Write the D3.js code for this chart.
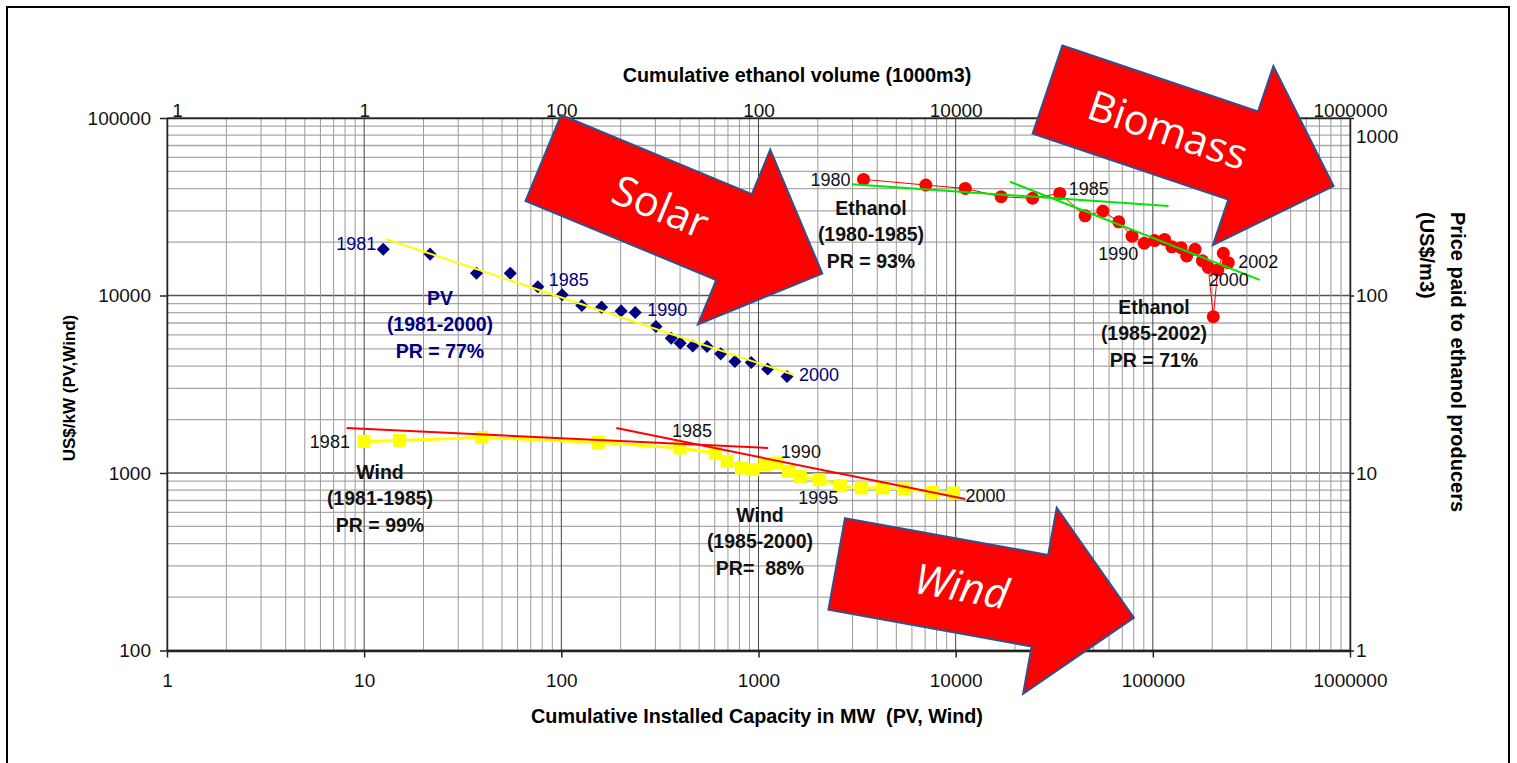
<!DOCTYPE html>
<html>
<head>
<meta charset="utf-8">
<script src="https://cdn.jsdelivr.net/npm/d3@7"></script>
<style>
body { margin: 0; background: #fff; }
svg text { font-family: "Liberation Sans", Arial, sans-serif; }
</style>
</head>
<body>
<script>
var w = 1517;
var h = 763;
var plot = {left: 167, right: 1350, top: 118, bottom: 650.5};

// PV (1981-2000): cumulative MW vs US$/kW
var pvYears = [1981, 1982, 1983, 1984, 1985, 1986, 1987, 1988, 1989, 1990,
               1991, 1992, 1993, 1994, 1995, 1996, 1997, 1998, 1999, 2000];
var pvCapacity = [12.5, 21.6, 37.1, 55.1, 76, 101, 127, 160, 201, 237,
                  302, 361, 401, 464, 548, 643, 759, 919, 1113, 1395];
var pvCost = [18200, 17100, 13350, 13350, 11200, 10100, 8780, 8600, 8190, 8010,
              6680, 5750, 5390, 5200, 5160, 4690, 4250, 4190, 3850, 3500];

// Wind (1981-2000)
var windYears = [1981, 1982, 1983, 1984, 1985, 1986, 1987, 1988, 1989, 1990,
                 1991, 1992, 1993, 1994, 1995, 1996, 1997, 1998, 1999, 2000];
var windCapacity = [9.97, 15.1, 39.5, 154, 400, 604, 693, 818, 939, 1077,
                    1237, 1419, 1629, 2028, 2600, 3331, 4268, 5470, 7608, 9747];
var windCost = [1506, 1526, 1586, 1487, 1382, 1296, 1163, 1067, 1044, 1114,
                1138, 1021, 957, 917, 848, 823, 823, 813, 778, 772];

// Ethanol (1980-2002): cumulative volume (1000 m3) vs price (US$/m3)
var ethanolYears = [1980, 1981, 1982, 1983, 1984, 1985, 1986, 1987, 1988, 1989, 1990, 1991,
                    1992, 1993, 1994, 1995, 1996, 1997, 1998, 1999, 2000, 2001, 2002];
var ethanolVolume = [3410, 7060, 11190, 17010, 24560, 33730, 45290, 55800, 67150, 78450, 90440, 102000,
                     114700, 124900, 139000, 148500, 163700, 178200, 191100, 202600, 213600, 227700, 241400];
var ethanolPrice = [451, 419, 401, 360, 353, 376, 281, 299, 260, 216, 197, 204,
                    207, 188, 186, 167, 182, 157, 144, 76, 139, 173, 153];

// experience curve fits (end points)
var pvFitX = [12.9, 1504], pvFitY = [20820, 3575];
var wind1FitX = [8.14, 1120], wind1FitY = [1791, 1382];
var wind2FitX = [190, 11190], wind2FitY = [1791, 714];
var eth1FitX = [2978, 120100], eth1FitY = [423, 319];
var eth2FitX = [18870, 348200], eth2FitY = [437.5, 122.4];

// ticks
var bottomTicks = [1, 10, 100, 1000, 10000, 100000, 1000000];
var topTicks = [1, 10, 100, 1000, 10000, 100000, 1000000];
var topTickLabels = ["1", "1", "100", "100", "10000", "", "1000000"];
var leftTicks = [100, 1000, 10000, 100000];
var rightTicks = [1, 10, 100, 1000];

var svg = d3.select("body").append("svg")
    .attr("width", w)
    .attr("height", h);

svg.append("rect")
    .attr("x", 7).attr("y", 7)
    .attr("width", 1502).attr("height", 800)
    .attr("fill", "#fff")
    .attr("stroke", "#000")
    .attr("stroke-width", 2);

var x = d3.scaleLog().domain([1, 1e6]).range([plot.left, plot.right]);
var y = d3.scaleLog().domain([100, 1e5]).range([plot.bottom, plot.top]);
var y2 = d3.scaleLog().domain([1, 1000]).range([plot.bottom, plot.top]);

function isMajor(v) {
    var l = Math.log10(v);
    return Math.abs(l - Math.round(l)) < 1e-9;
}

//Gridlines
var grid = svg.append("g");
grid.selectAll("line.hgrid")
    .data(y.ticks())
    .enter().append("line")
    .attr("x1", plot.left).attr("x2", plot.right)
    .attr("y1", function(d) { return y(d); })
    .attr("y2", function(d) { return y(d); })
    .attr("stroke", function(d) { return isMajor(d) ? "#555" : "#a8a8a8"; })
    .attr("stroke-width", function(d) { return isMajor(d) ? 1.5 : 1.3; });
grid.selectAll("line.vgrid")
    .data(x.ticks())
    .enter().append("line")
    .attr("y1", plot.top).attr("y2", plot.bottom)
    .attr("x1", function(d) { return x(d); })
    .attr("x2", function(d) { return x(d); })
    .attr("stroke", function(d) { return isMajor(d) ? "#444" : "#9a9a9a"; })
    .attr("stroke-width", 1);

//Axes
var fmt = d3.format("d");
var gBottom = svg.append("g")
    .attr("transform", "translate(0," + plot.bottom + ")")
    .call(d3.axisBottom(x).tickValues(bottomTicks).tickFormat(fmt).tickSize(7).tickSizeOuter(0).tickPadding(16));
var gLeft = svg.append("g")
    .attr("transform", "translate(" + plot.left + ",0)")
    .call(d3.axisLeft(y).tickValues(leftTicks).tickFormat(fmt).tickSize(7).tickSizeOuter(0).tickPadding(9));
var gRight = svg.append("g")
    .attr("transform", "translate(" + plot.right + ",0)")
    .call(d3.axisRight(y2).tickValues(rightTicks).tickFormat(fmt).tickSize(4).tickSizeOuter(0).tickPadding(2));
var gTop = svg.append("g")
    .attr("transform", "translate(0," + plot.top + ")")
    .call(d3.axisTop(x).tickValues(topTicks).tickFormat(function(d, i) { return topTickLabels[i]; })
        .tickSize(0).tickSizeOuter(0).tickPadding(1));

[gBottom, gLeft, gRight, gTop].forEach(function(g) {
    g.selectAll("text").attr("font-size", 19).attr("fill", "#111")
        .style("font-family", "'Liberation Sans', Arial, sans-serif");
    g.selectAll("line, path").attr("stroke", "#222").attr("stroke-width", 1.5);
});
gBottom.select(".domain").attr("stroke-width", 2.5);
// first top label sits just right of the corner, top right label kept inside the frame
gTop.select(".tick text").attr("x", 10);
gRight.selectAll(".tick text").attr("y", function(d) { return Math.max(0, plot.top + 18 - y2(d)); });

//Axis titles
svg.append("text")
    .attr("x", 797).attr("y", 82)
    .attr("text-anchor", "middle")
    .attr("font-size", 19.8).attr("font-weight", "bold")
    .text("Cumulative ethanol volume (1000m3)");
svg.append("text")
    .attr("x", 757).attr("y", 723)
    .attr("text-anchor", "middle")
    .attr("font-size", 19.8).attr("font-weight", "bold")
    .style("white-space", "pre")
    .text("Cumulative Installed Capacity in MW  (PV, Wind)");
svg.append("text")
    .attr("transform", "translate(75,388) rotate(-90)")
    .attr("text-anchor", "middle")
    .attr("font-size", 17).attr("font-weight", "bold")
    .text("US$/kW (PV,Wind)");
svg.append("text")
    .attr("transform", "translate(1451,212) rotate(90)")
    .attr("font-size", 20).attr("font-weight", "bold")
    .text("Price paid to ethanol producers");
svg.append("text")
    .attr("transform", "translate(1420,212) rotate(90)")
    .attr("font-size", 20).attr("font-weight", "bold")
    .text("(US$/m3)");

//Series data
var pv = pvYears.map(function(yr, i) { return {year: yr, x: pvCapacity[i], y: pvCost[i]}; });
var wind = windYears.map(function(yr, i) { return {year: yr, x: windCapacity[i], y: windCost[i]}; });
var eth = ethanolYears.map(function(yr, i) { return {year: yr, x: ethanolVolume[i], y: ethanolPrice[i]}; });

var line = d3.line()
    .x(function(d) { return x(d.x); })
    .y(function(d) { return y(d.y); });
var line2 = d3.line()
    .x(function(d) { return x(d.x); })
    .y(function(d) { return y2(d.y); });

function fitPoints(fx, fy) {
    return fx.map(function(v, i) { return {x: v, y: fy[i]}; });
}

//Ethanol
svg.append("path")
    .datum(eth)
    .attr("d", line2)
    .attr("fill", "none")
    .attr("stroke", "#ff0000")
    .attr("stroke-width", 1);
svg.selectAll("circle.eth")
    .data(eth)
    .enter().append("circle")
    .attr("cx", function(d) { return x(d.x); })
    .attr("cy", function(d) { return y2(d.y); })
    .attr("r", 6.5)
    .attr("fill", "#ff0000");
[fitPoints(eth1FitX, eth1FitY), fitPoints(eth2FitX, eth2FitY)].forEach(function(f) {
    svg.append("path").datum(f).attr("d", line2)
        .attr("stroke", "#00e600").attr("stroke-width", 2).attr("fill", "none");
});

//PV
svg.selectAll("path.pv")
    .data(pv)
    .enter().append("path")
    .attr("d", d3.symbol().type(d3.symbolSquare).size(85))
    .attr("transform", function(d) { return "translate(" + x(d.x) + "," + y(d.y) + ") rotate(45)"; })
    .attr("fill", "#000080");
svg.append("path").datum(fitPoints(pvFitX, pvFitY)).attr("d", line)
    .attr("stroke", "#ffff00").attr("stroke-width", 2).attr("fill", "none");

//Wind
svg.append("path")
    .datum(wind)
    .attr("d", line)
    .attr("fill", "none")
    .attr("stroke", "#ffff00")
    .attr("stroke-width", 3);
svg.selectAll("path.wind")
    .data(wind)
    .enter().append("path")
    .attr("d", d3.symbol().type(d3.symbolSquare).size(169))
    .attr("transform", function(d) { return "translate(" + x(d.x) + "," + y(d.y) + ")"; })
    .attr("fill", "#ffff00");
[fitPoints(wind1FitX, wind1FitY), fitPoints(wind2FitX, wind2FitY)].forEach(function(f) {
    svg.append("path").datum(f).attr("d", line)
        .attr("stroke", "#ff0000").attr("stroke-width", 2).attr("fill", "none");
});

//Year labels
var pvLabels = [
    {year: 1981, dx: -7, dy: -6, anchor: "end"},
    {year: 1985, dx: 11, dy: -7, anchor: "start"},
    {year: 1990, dx: 12, dy: -3, anchor: "start"},
    {year: 2000, dx: 12, dy: -2, anchor: "start"}
];
var windLabels = [
    {year: 1981, dx: -14, dy: 0, anchor: "end"},
    {year: 1985, dx: 12, dy: -17, anchor: "middle"},
    {year: 1990, dx: 16, dy: -13, anchor: "start"},
    {year: 1995, dx: -2, dy: 12, anchor: "end"},
    {year: 2000, dx: 12, dy: 3, anchor: "start"}
];
var ethLabels = [
    {year: 1980, dx: -13, dy: 0, anchor: "end"},
    {year: 1985, dx: 9, dy: -5, anchor: "start"},
    {year: 1990, dx: -6, dy: 10, anchor: "end"},
    {year: 2000, dx: 11, dy: 10, anchor: "middle"},
    {year: 2002, dx: 10, dy: -1, anchor: "start"}
];

function yearLabels(labels, series, yScale, color) {
    labels.forEach(function(l) {
        var p = series.filter(function(d) { return d.year === l.year; })[0];
        svg.append("text")
            .attr("x", x(p.x) + l.dx)
            .attr("y", yScale(p.y) + l.dy)
            .attr("dy", "0.35em")
            .attr("text-anchor", l.anchor)
            .attr("font-size", 18)
            .attr("fill", color)
            .text(l.year);
    });
}
yearLabels(pvLabels, pv, y, "#000080");
yearLabels(windLabels, wind, y, "#111");
yearLabels(ethLabels, eth, y2, "#111");

//Progress ratio notes
var notes = [
    {lines: ["PV", "(1981-2000)", "PR = 77%"], x: 440, y: 298, color: "#000080"},
    {lines: ["Ethanol", "(1980-1985)", "PR = 93%"], x: 871, y: 208, color: "#111"},
    {lines: ["Ethanol", "(1985-2002)", "PR = 71%"], x: 1154, y: 307, color: "#111"},
    {lines: ["Wind", "(1981-1985)", "PR = 99%"], x: 380, y: 472, color: "#111"},
    {lines: ["Wind", "(1985-2000)", "PR=  88%"], x: 760, y: 515, color: "#111"}
];
notes.forEach(function(n) {
    n.lines.forEach(function(t, i) {
        svg.append("text")
            .attr("x", n.x)
            .attr("y", n.y + i * 26.5)
            .attr("dy", "0.35em")
            .attr("text-anchor", "middle")
            .attr("font-size", 19.5)
            .attr("font-weight", "bold")
            .attr("fill", n.color)
            .style("white-space", "pre")
            .text(t);
    });
});

//Block arrows
var arrowLen = 302, shaftHalf = 46.5, headHalf = 94.5, headLen = 95.5;
var arrowShape = [
    [0, -shaftHalf], [arrowLen - headLen, -shaftHalf], [arrowLen - headLen, -headHalf],
    [arrowLen, 0], [arrowLen - headLen, headHalf], [arrowLen - headLen, shaftHalf], [0, shaftHalf]
];
var arrows = [
    {label: "Solar", x: 543.3, y: 158, angle: 22.5, italic: false},
    {label: "Biomass", x: 1047.5, y: 89.5, angle: 18.66, italic: false},
    {label: "Wind", x: 836.7, y: 564, angle: 10.24, italic: true}
];
arrows.forEach(function(a) {
    var g = svg.append("g")
        .attr("transform", "translate(" + a.x + "," + a.y + ") rotate(" + a.angle + ")");
    g.append("path")
        .attr("d", d3.line()(arrowShape) + "Z")
        .attr("fill", "#ff0000")
        .attr("stroke", "#2f528f")
        .attr("stroke-width", 2)
        .attr("stroke-linejoin", "miter");
    g.append("text")
        .attr("x", 127).attr("y", 0)
        .attr("dy", "0.35em")
        .attr("text-anchor", "middle")
        .attr("font-size", 42)
        .attr("fill", "#fff")
        .attr("font-style", a.italic ? "italic" : "normal")
        .style("font-family", "'Open Sans', 'Noto Sans', sans-serif")
        .text(a.label);
});
</script>
</body>
</html>
